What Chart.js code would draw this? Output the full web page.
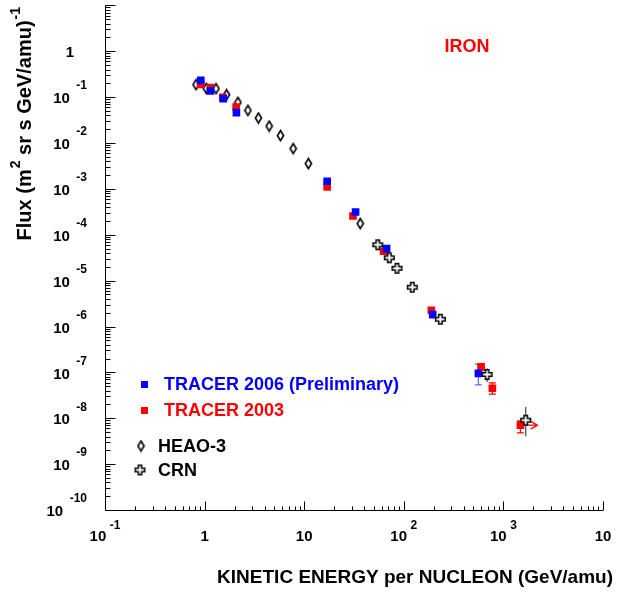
<!DOCTYPE html>
<html>
<head>
<meta charset="utf-8">
<script src="https://cdn.jsdelivr.net/npm/chart.js@4"></script>
<style>
  body { margin: 0; background: #fff; }
  #wrap { width: 623px; height: 594px; }
</style>
</head>
<body>
<div id="wrap"><canvas id="chart" width="623" height="594"></canvas></div>
<script>
// TRACER 2006 (preliminary) - energy (GeV/amu), flux, error bars
const tracer06E = [0.916, 1.144, 1.541, 2.087, 17.0, 32.8, 67.2, 195, 561];
const tracer06Flux = [0.232, 0.137, 0.0927, 0.0459, 1.47e-3, 3.14e-4, 5.0e-5, 1.82e-6, 9.5e-8];
const tracer06Lo = [null, null, null, null, null, null, null, null, 5.35e-8];
const tracer06Hi = [null, null, null, null, null, null, null, null, 1.51e-7];

// TRACER 2003
const tracer03E = [0.912, 1.144, 1.524, 2.073, 17.0, 30.9, 62.7, 189, 597, 775, 1482];
const tracer03Flux = [0.190, 0.161, 0.099, 0.0608, 1.10e-3, 2.57e-4, 4.38e-5, 2.26e-6, 1.32e-7, 4.5e-8, 7.08e-9];
const tracer03Lo = [null, null, null, null, null, null, null, null, 1.1e-7, 3.35e-8, 4.8e-9];
const tracer03Hi = [null, null, null, null, null, null, null, null, 1.56e-7, 5.9e-8, 8.8e-9];
const tracer03ArrowTo = [null, null, null, null, null, null, null, null, null, null, 2200];

// HEAO-3
const heaoE = [0.82, 1.04, 1.3, 1.66, 2.16, 2.72, 3.47, 4.45, 5.78, 7.75, 11.0, 36.5];
const heaoFlux = [0.187, 0.155, 0.153, 0.113, 0.077, 0.0515, 0.035, 0.0234, 0.0145, 0.00755, 0.00356, 1.75e-4];

// CRN
const crnE = [54.8, 71.5, 85.4, 121.7, 232.7, 686, 1675];
const crnFlux = [6.05e-5, 3.15e-5, 1.86e-5, 7.18e-6, 1.44e-6, 9.0e-8, 9.1e-9];
const crnLo = [null, null, null, null, null, 6.2e-8, 4.07e-9];
const crnHi = [null, null, null, null, null, 1.23e-7, 1.75e-8];

// tick labels (decade exponents)
const xTickExp = [-1, 0, 1, 2, 3, 4];
const xTickBase = ["10", "1", "10", "10", "10", "10"];
const xTickSup = ["-1", "", "", "2", "3", ""];
const yTickExp = [-10, -9, -8, -7, -6, -5, -4, -3, -2, -1, 0];
const yTickBase = ["10", "10", "10", "10", "10", "10", "10", "10", "10", "10", "1"];
const yTickSup = ["-10", "-9", "-8", "-7", "-6", "-5", "-4", "-3", "-2", "-1", ""];

const FONT = '"Liberation Sans", Arial, sans-serif';

function pts(xs, ys) {
  return xs.map((x, i) => ({ x: x, y: ys[i] }));
}

function marker(w, h, draw) {
  const c = document.createElement("canvas");
  c.width = w;
  c.height = h;
  draw(c.getContext("2d"));
  return c;
}

// open diamond (HEAO-3)
const diamond = marker(9, 13, (g) => {
  g.strokeStyle = "#000";
  g.lineWidth = 1.6;
  g.beginPath();
  g.moveTo(4.5, 1.5);
  g.lineTo(7.6, 6.5);
  g.lineTo(4.5, 11.5);
  g.lineTo(1.4, 6.5);
  g.closePath();
  g.stroke();
});

// open cross (CRN)
const openCross = marker(13, 13, (g) => {
  const c = 6.5, a = 1.7, l = 4.8;
  g.beginPath();
  g.moveTo(c - a, c - l);
  g.lineTo(c + a, c - l);
  g.lineTo(c + a, c - a);
  g.lineTo(c + l, c - a);
  g.lineTo(c + l, c + a);
  g.lineTo(c + a, c + a);
  g.lineTo(c + a, c + l);
  g.lineTo(c - a, c + l);
  g.lineTo(c - a, c + a);
  g.lineTo(c - l, c + a);
  g.lineTo(c - l, c - a);
  g.lineTo(c - a, c - a);
  g.closePath();
  g.fillStyle = "#fff";
  g.fill();
  g.strokeStyle = "#000";
  g.lineWidth = 1.5;
  g.stroke();
});

function drawPow(ctx, base, sup, x, y, align, baseFont, supFont, gap, rise) {
  ctx.font = baseFont;
  const wb = ctx.measureText(base).width;
  ctx.font = supFont;
  const ws = sup ? ctx.measureText(sup).width : 0;
  const total = wb + (sup ? gap + ws : 0);
  let x0 = x;
  if (align === "center") x0 = x - total / 2;
  if (align === "right") x0 = x - total;
  ctx.textAlign = "left";
  ctx.textBaseline = "middle";
  ctx.font = baseFont;
  ctx.fillText(base, x0, y);
  if (sup) {
    ctx.font = supFont;
    ctx.fillText(sup, x0 + wb + gap, y - rise);
  }
}

function drawRich(ctx, parts, xEnd, y, font, supFont, rise) {
  let total = 0;
  parts.forEach((p) => {
    ctx.font = p.sup ? supFont : font;
    p.w = ctx.measureText(p.t).width;
    total += p.w + (p.sup ? 1 : 0);
  });
  let x = xEnd - total;
  ctx.textAlign = "left";
  ctx.textBaseline = "middle";
  parts.forEach((p) => {
    ctx.font = p.sup ? supFont : font;
    ctx.fillText(p.t, x + (p.sup ? 1 : 0), p.sup ? y - rise : y);
    x += p.w + (p.sup ? 1 : 0);
  });
}

const decor = {
  id: "decor",
  beforeDatasetsDraw(chart) {
    const ctx = chart.ctx;
    const xs = chart.scales.x, ys = chart.scales.y;
    ctx.save();
    chart.data.datasets.forEach((ds, di) => {
      const meta = chart.getDatasetMeta(di);
      if (ds.errLo) {
        ctx.strokeStyle = ds.errColor;
        ctx.lineWidth = 1.2;
        meta.data.forEach((pt, i) => {
          if (ds.errLo[i] == null) return;
          const y1 = ys.getPixelForValue(ds.errHi[i]);
          const y2 = ys.getPixelForValue(ds.errLo[i]);
          ctx.beginPath();
          ctx.moveTo(pt.x, y1);
          ctx.lineTo(pt.x, y2);
          if (ds.errCap) {
            ctx.moveTo(pt.x - ds.errCap, y1);
            ctx.lineTo(pt.x + ds.errCap, y1);
            ctx.moveTo(pt.x - ds.errCap, y2);
            ctx.lineTo(pt.x + ds.errCap, y2);
          }
          ctx.stroke();
        });
      }
      if (ds.arrowTo) {
        ctx.strokeStyle = ds.backgroundColor;
        ctx.lineWidth = 1.2;
        meta.data.forEach((pt, i) => {
          if (ds.arrowTo[i] == null) return;
          const xe = xs.getPixelForValue(ds.arrowTo[i]);
          ctx.beginPath();
          ctx.moveTo(pt.x, pt.y);
          ctx.lineTo(xe, pt.y);
          ctx.moveTo(xe - 7, pt.y - 4);
          ctx.lineTo(xe, pt.y);
          ctx.lineTo(xe - 7, pt.y + 4);
          ctx.stroke();
        });
      }
    });
    ctx.restore();
  },
  afterDraw(chart) {
    const ctx = chart.ctx;
    const xs = chart.scales.x, ys = chart.scales.y;
    const a = chart.chartArea;
    ctx.save();
    ctx.strokeStyle = "#000";
    ctx.fillStyle = "#000";
    ctx.lineWidth = 1;

    // axis lines
    const L = Math.round(a.left) + 0.5, B = Math.round(a.bottom) + 0.5;
    ctx.beginPath();
    ctx.moveTo(L, Math.round(a.top));
    ctx.lineTo(L, B);
    ctx.lineTo(Math.round(a.right), B);
    ctx.stroke();

    // ticks (inside the frame)
    ctx.beginPath();
    for (let e = -10; e <= 1; e++) {
      for (let k = 1; k <= 9; k++) {
        const v = k * Math.pow(10, e);
        if (v > 10.0001) break;
        const y = Math.round(ys.getPixelForValue(v)) + 0.5;
        const len = k === 1 ? 10 : 5;
        ctx.moveTo(L, y);
        ctx.lineTo(L + len, y);
      }
    }
    for (let e = -1; e <= 4; e++) {
      for (let k = 1; k <= 9; k++) {
        const v = k * Math.pow(10, e);
        if (v > 10000.1) break;
        const x = Math.round(xs.getPixelForValue(v)) + 0.5;
        const len = k === 1 ? 9 : 4;
        ctx.moveTo(x, B);
        ctx.lineTo(x, B - len);
      }
    }
    ctx.stroke();

    // tick labels
    const baseFont = "bold 15px " + FONT;
    const supFont = "bold 12px " + FONT;
    yTickExp.forEach((e, i) => {
      const y = ys.getPixelForValue(Math.pow(10, e)) + 2;
      if (yTickSup[i]) {
        drawPow(ctx, yTickBase[i], yTickSup[i], 87, y, "right", baseFont, supFont, 6.5, 13);
      } else {
        drawPow(ctx, yTickBase[i], "", 74, y, "right", baseFont, supFont, 0, 0);
      }
    });
    xTickExp.forEach((e, i) => {
      const x = xs.getPixelForValue(Math.pow(10, e));
      drawPow(ctx, xTickBase[i], xTickSup[i], x, 537, "center", baseFont, supFont, 3.5, 11);
    });

    // axis titles
    ctx.fillStyle = "#000";
    drawRich(ctx, [{ t: "KINETIC ENERGY per NUCLEON (GeV/amu)" }], 613, 578,
      "bold 19px " + FONT, "bold 14px " + FONT, 8);
    ctx.save();
    ctx.translate(25, 7);
    ctx.rotate(-Math.PI / 2);
    drawRich(ctx, [
      { t: "Flux (m" }, { t: "2", sup: true }, { t: " sr s GeV/amu)" }, { t: "-1", sup: true }
    ], 0, 0, "bold 20px " + FONT, "bold 14px " + FONT, 9);
    ctx.restore();

    // IRON label
    ctx.fillStyle = "#ff0000";
    ctx.font = "bold 18px " + FONT;
    ctx.textAlign = "center";
    ctx.textBaseline = "middle";
    ctx.fillText("IRON", 467, 47);

    // legend
    ctx.textAlign = "left";
    ctx.font = "bold 18px " + FONT;
    ctx.fillStyle = "#0000ff";
    ctx.fillRect(141, 381, 7, 7);
    ctx.fillText("TRACER 2006 (Preliminary)", 164, 385);
    ctx.fillStyle = "#ff0000";
    ctx.fillRect(141, 407, 7, 7);
    ctx.fillText("TRACER 2003", 164, 411);
    ctx.drawImage(diamond, 141 - 4.5, 446 - 6.5);
    ctx.drawImage(openCross, 140 - 6.5, 470 - 6.5);
    ctx.fillStyle = "#000";
    ctx.fillText("HEAO-3", 158, 447);
    ctx.fillText("CRN", 158, 471);
    ctx.restore();
  }
};

new Chart(document.getElementById("chart"), {
  type: "scatter",
  data: {
    datasets: [
      {
        label: "CRN",
        data: pts(crnE, crnFlux),
        pointStyle: openCross,
        errLo: crnLo,
        errHi: crnHi,
        errColor: "#444",
        errCap: 0,
      },
      {
        label: "TRACER 2006 (Preliminary)",
        data: pts(tracer06E, tracer06Flux),
        pointStyle: "rect",
        pointRadius: 5.4,
        borderWidth: 0,
        backgroundColor: "#0000ff",
        borderColor: "#0000ff",
        errLo: tracer06Lo,
        errHi: tracer06Hi,
        errColor: "#6666ff",
        errCap: 3.5,
      },
      {
        label: "TRACER 2003",
        data: pts(tracer03E, tracer03Flux),
        pointStyle: "rect",
        pointRadius: 5.4,
        borderWidth: 0,
        backgroundColor: "#ff0000",
        borderColor: "#ff0000",
        errLo: tracer03Lo,
        errHi: tracer03Hi,
        errColor: "#ff0000",
        errCap: 3.5,
        arrowTo: tracer03ArrowTo,
      },
      {
        label: "HEAO-3",
        data: pts(heaoE, heaoFlux),
        pointStyle: diamond,
      },
    ],
  },
  options: {
    responsive: false,
    animation: false,
    events: [],
    layout: { padding: { left: 105, right: 20, top: 5, bottom: 84 } },
    plugins: { legend: { display: false }, tooltip: { enabled: false } },
    scales: {
      x: { type: "logarithmic", min: 0.1, max: 10000, display: false },
      y: { type: "logarithmic", min: 1e-10, max: 10, display: false },
    },
  },
  plugins: [decor],
});
</script>
</body>
</html>
